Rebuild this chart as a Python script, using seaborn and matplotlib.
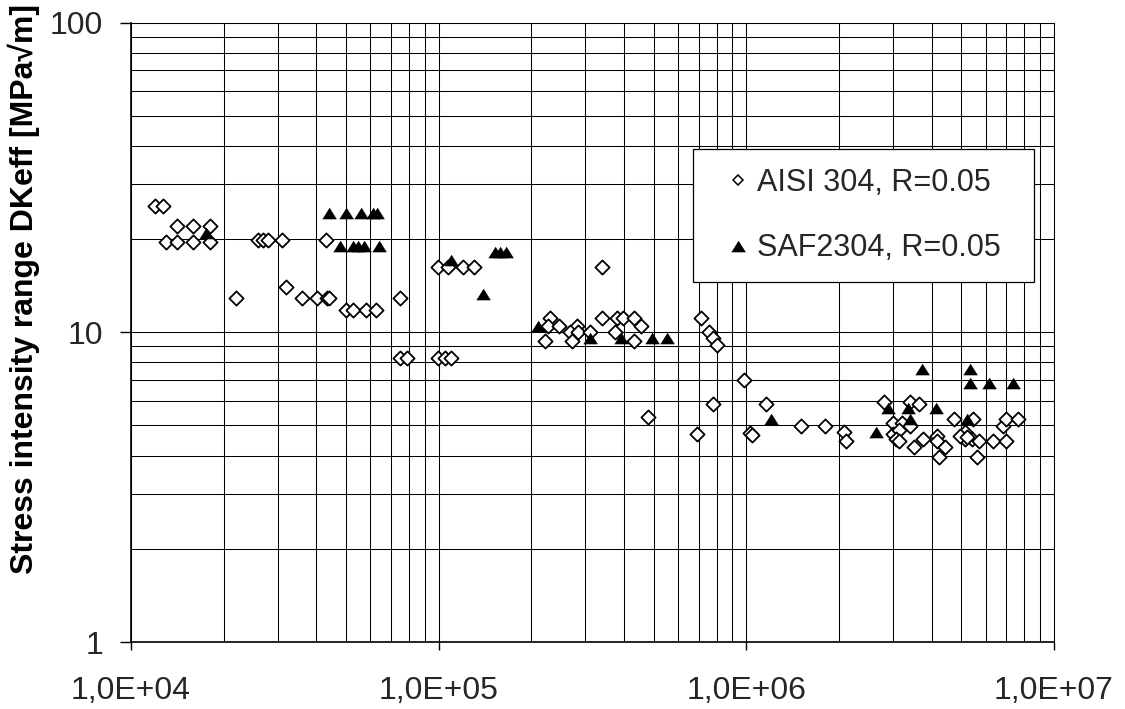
import matplotlib
matplotlib.use("Agg")
import matplotlib.pyplot as plt
import seaborn as sns
from matplotlib.lines import Line2D
from matplotlib.ticker import FixedLocator, FixedFormatter, LogLocator, NullFormatter

# Fatigue test results: number of cycles vs. effective stress intensity range
aisi_cycles = [
    1.20e4, 1.27e4, 1.41e4, 1.59e4, 1.81e4, 1.30e4, 1.41e4, 1.59e4, 1.81e4,
    2.19e4, 2.59e4, 2.69e4, 2.79e4, 3.10e4, 4.29e4, 3.19e4,
    3.60e4, 4.01e4, 4.33e4, 4.40e4, 5.00e4, 5.27e4, 5.79e4, 6.24e4,
    7.48e4, 7.48e4, 7.91e4, 9.97e4, 1.074e5, 1.202e5, 1.306e5,
    9.97e4, 1.048e5, 1.10e5, 3.39e5,
    2.30e5, 2.27e5, 2.47e5, 2.21e5, 2.81e5, 2.67e5, 2.84e5, 2.71e5, 3.10e5,
    3.39e5, 3.79e5, 3.98e5, 4.31e5, 4.53e5, 3.74e5, 4.31e5,
    7.12e5, 7.54e5, 7.80e5, 8.04e5, 9.81e5, 7.80e5, 4.80e5, 6.90e5,
    1.03e6, 1.04e6, 1.155e6, 1.504e6, 1.80e6, 2.076e6, 2.107e6,
    2.80e6, 3.40e6, 3.64e6, 3.00e6, 3.197e6, 3.40e6,
    3.00e6, 3.14e6, 3.063e6, 3.14e6, 3.51e6, 3.74e6, 4.17e6, 4.17e6, 4.42e6, 4.23e6,
    4.73e6, 5.46e6, 5.14e6, 5.14e6, 5.40e6, 5.71e6, 5.63e6, 4.95e6, 5.22e6,
    6.34e6, 6.96e6, 6.81e6, 6.96e6, 7.61e6,
]
aisi_dk = [
    25.6, 25.6, 22.0, 22.0, 22.0, 19.5, 19.5, 19.5, 19.5,
    12.9, 19.9, 19.9, 19.9, 19.9, 19.9, 14.0,
    12.9, 12.9, 12.9, 12.9, 11.8, 11.8, 11.8, 11.8,
    12.9, 8.26, 8.26, 16.3, 16.3, 16.3, 16.3,
    8.26, 8.26, 8.26, 16.3,
    11.1, 10.5, 10.5, 9.34, 10.5, 10.0, 10.0, 9.34, 10.0,
    11.1, 11.1, 11.1, 11.1, 10.5, 10.0, 9.34,
    11.1, 10.0, 9.55, 9.1, 7.0, 5.86, 5.33, 4.69,
    4.72, 4.67, 5.86, 4.97, 4.97, 4.76, 4.45,
    5.95, 5.95, 5.86, 5.10, 5.10, 4.97,
    4.69, 4.85, 4.53, 4.45, 4.26, 4.51, 4.64, 4.45, 4.26, 3.95,
    5.24, 5.24, 4.76, 4.51, 4.51, 4.45, 3.95, 4.64, 4.60,
    4.45, 4.45, 4.97, 5.24, 5.24,
]

saf_cycles = [
    1.753e4, 4.41e4, 5.00e4, 5.59e4, 6.13e4, 6.32e4,
    4.78e4, 5.25e4, 5.48e4, 5.73e4, 6.41e4,
    1.10e5, 1.524e5, 1.582e5, 1.654e5, 1.396e5,
    2.10e5, 3.10e5, 3.90e5, 4.92e5, 5.53e5,
    1.202e6, 2.638e6, 2.885e6, 3.35e6, 3.40e6, 3.71e6, 4.13e6,
    5.22e6, 5.35e6, 5.35e6, 6.14e6, 7.34e6,
]
saf_dk = [
    20.9, 24.3, 24.3, 24.3, 24.3, 24.3,
    19.0, 19.0, 19.0, 19.0, 19.0,
    17.1, 18.2, 18.2, 18.2, 13.3,
    10.5, 9.55, 9.55, 9.55, 9.55,
    5.24, 4.76, 5.70, 5.70, 5.24, 7.61, 5.70,
    5.24, 7.61, 6.86, 6.86, 6.86,
]

series_labels = ["AISI 304, R=0.05", "SAF2304, R=0.05"]
x_ticks = [1e4, 1e5, 1e6, 1e7]
x_tick_labels = ["1,0E+04", "1,0E+05", "1,0E+06", "1,0E+07"]
y_ticks = [1, 10, 100]
y_tick_labels = ["1", "10", "100"]
y_label = "Stress intensity range DKeff [MPa√m]"

sns.set_theme(style="white")
plt.rcParams["font.family"] = ["Liberation Sans", "DejaVu Sans"]

W, H = 1125, 709
fig = plt.figure(figsize=(W / 100, H / 100), dpi=100)
ax_left, ax_w = 131, 923
ax = fig.add_axes([ax_left / W, 1 - 642 / H, ax_w / W, 619.5 / H])
ax.set_xscale("log")
ax.set_yscale("log")

tri = [(-1.0, -0.8), (1.0, -0.8), (0.0, 0.8)]

sns.scatterplot(x=aisi_cycles, y=aisi_dk, marker="D", s=52,
                facecolor="white", edgecolor="black", linewidth=1.3,
                ax=ax, zorder=3, legend=False)
sns.scatterplot(x=saf_cycles, y=saf_dk, marker=tri, s=100,
                facecolor="black", edgecolor="black", linewidth=0.3,
                ax=ax, zorder=4, legend=False)

ax.set_xlim(1e4, 1e7)
ax.set_ylim(1, 100)

ax.xaxis.set_major_locator(FixedLocator(x_ticks))
ax.xaxis.set_major_formatter(FixedFormatter(x_tick_labels))
ax.yaxis.set_major_locator(FixedLocator(y_ticks))
ax.yaxis.set_major_formatter(FixedFormatter(y_tick_labels))
for axis in (ax.xaxis, ax.yaxis):
    axis.set_minor_locator(LogLocator(base=10, subs=range(2, 10)))
    axis.set_minor_formatter(NullFormatter())

ax.set_axisbelow(True)
ax.grid(which="both", color="black", linewidth=0.75)

y_pad = 13.0
ax.tick_params(axis="x", which="major", labelsize=23, length=6, width=1,
               pad=18.3, color="black", direction="out", bottom=True)
ax.tick_params(axis="y", which="major", labelsize=23, length=8, width=1,
               pad=y_pad, color="black", direction="out", left=True)
ax.tick_params(which="minor", length=0)

for side in ("left", "bottom"):
    ax.spines[side].set_color("black")
    ax.spines[side].set_linewidth(1.2)
for side in ("top", "right"):
    ax.spines[side].set_color("black")
    ax.spines[side].set_linewidth(0.75)

ax.set_ylabel(y_label, fontsize=23, fontweight="bold", color="black")
label_x = -0.1018
ax.yaxis.set_label_coords(label_x, 0.57)

handles = [
    Line2D([], [], ls="none", marker="D", ms=5.2, mfc="white", mec="black", mew=1.1),
    Line2D([], [], ls="none", marker=tri, ms=10, mfc="black", mec="black", mew=0.3),
]
leg = ax.legend(handles, series_labels, loc="upper left",
                bbox_to_anchor=(0.6089, 0.5, 0.3694, 0.2958), mode="expand",
                borderaxespad=0, fontsize=22, frameon=True, fancybox=False,
                framealpha=1, borderpad=0.62, labelspacing=1.16,
                handlelength=1.7, handletextpad=-0.23, numpoints=1)
leg.get_frame().set_edgecolor("black")
leg.get_frame().set_linewidth(0.9)
leg.set_zorder(10)

# Fine-tune the tick-label gap and the axis-label position in pixels
fig.canvas.draw()
renderer = fig.canvas.get_renderer()
ten = [t for t in ax.yaxis.get_ticklabels() if t.get_text() == "10"][0]
shift_px = ten.get_window_extent(renderer).x1 - 103
ax.tick_params(axis="y", which="major", pad=y_pad + shift_px * 72 / 100)
fig.canvas.draw()
lab_box = ax.yaxis.label.get_window_extent(renderer)
label_x += (40 - lab_box.x1) / ax_w
ax.yaxis.set_label_coords(label_x, 0.57)

fig.savefig("out.png", dpi=100)
